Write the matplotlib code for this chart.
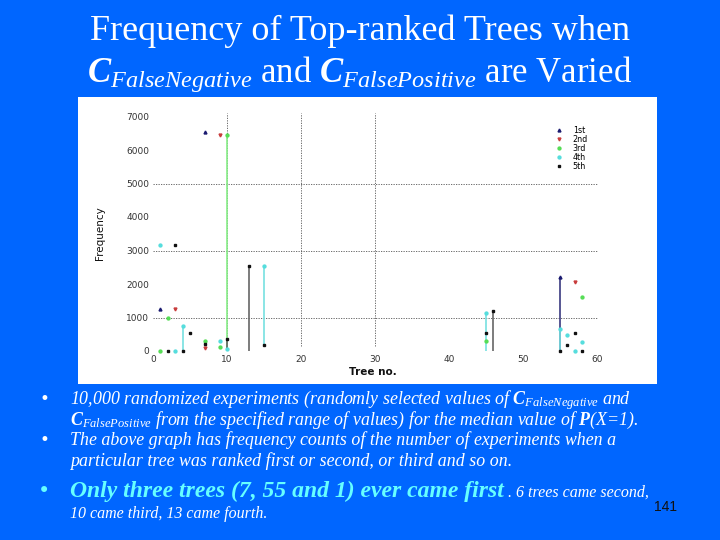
import matplotlib
matplotlib.use("Agg")
import matplotlib.pyplot as plt
from matplotlib.lines import Line2D

plt.rcParams['mathtext.fontset'] = 'custom'
plt.rcParams['mathtext.rm'] = 'Liberation Serif'
plt.rcParams['mathtext.it'] = 'Liberation Serif:italic'
plt.rcParams['mathtext.bf'] = 'Liberation Serif:italic:bold'

# ---------------- data ----------------
rank_labels = ["1st", "2nd", "3rd", "4th", "5th"]

first_trees = [1, 7, 55]
first_freq = [1250, 6550, 2200]

second_trees = [3, 7, 9, 57]
second_freq = [1250, 100, 6450, 2060]

third_trees = [1, 2, 7, 9, 10, 45, 58]
third_freq = [0, 1000, 300, 120, 6450, 300, 1610]

fourth_trees = [1, 3, 4, 9, 10, 15, 45, 55, 56, 57, 58]
fourth_freq = [3150, 0, 750, 300, 50, 2540, 1130, 650, 480, 0, 270]

fifth_trees = [2, 3, 4, 5, 7, 10, 13, 15, 45, 46, 55, 56, 57, 58]
fifth_freq = [0, 3150, 0, 550, 200, 350, 2540, 180, 540, 1200, 0, 180, 540, 0]

# vertical segments (tree, low, high) per rank
first_stems = [(55, 0, 2200)]
third_stems = [(10, 0, 6450)]
fourth_stems = [(4, 0, 750), (15, 180, 2540), (45, 0, 1130), (55, 0, 650)]
fifth_stems = [(10, 50, 350), (13, 0, 2540), (46, 0, 1200)]

x_ticks = [0, 10, 20, 30, 40, 50, 60]
y_ticks = [0, 1000, 2000, 3000, 4000, 5000, 6000, 7000]

# ---------------- figure ----------------
BLUE = '#0066FF'
fig = plt.figure(figsize=(7.2, 5.4), dpi=100)
fig.patch.set_facecolor(BLUE)

W, H = 720.0, 540.0
def fx(px):
    return px / W
def fy(py):
    return 1 - py / H

# white picture area (background axes)
bg = fig.add_axes([fx(78), fy(384), (657 - 78) / W, (384 - 97) / H])
bg.set_facecolor('white')
bg.set_xticks([])
bg.set_yticks([])
for s in bg.spines.values():
    s.set_visible(False)
bg.set_zorder(0)

# axes: tree 0 -> px153, 1 unit = 7.4px ; freq 0 -> py351, 1000 = 33.5px
xl, xr = -2, 62
yb, yt = -300, 7300
left_px = 153 + 7.4 * xl
right_px = 153 + 7.4 * xr
bot_px = 351 - 0.0335 * yb
top_px = 351 - 0.0335 * yt
ax = fig.add_axes([fx(left_px), fy(bot_px), (right_px - left_px) / W, (bot_px - top_px) / H])
ax.set_zorder(1)
ax.set_facecolor('none')
ax.set_xlim(xl, xr)
ax.set_ylim(yb, yt)
for s in ax.spines.values():
    s.set_visible(False)

# grid
for g in [1000, 3000, 5000]:
    ax.plot([0, 60], [g, g], color='#555555', lw=0.6, ls=(0, (1.5, 1.5)), zorder=1)
for g in [10, 20, 30]:
    ax.plot([g, g], [150, 7100], color='#555555', lw=0.6, ls=(0, (1.5, 1.5)), zorder=1)

series = [
    (first_trees, first_freq, first_stems, '#1a1a70', '^'),
    (second_trees, second_freq, [], '#c83c3c', 'v'),
    (third_trees, third_freq, third_stems, '#55dd55', 'o'),
    (fourth_trees, fourth_freq, fourth_stems, '#55dddd', 'o'),
    (fifth_trees, fifth_freq, fifth_stems, '#111111', 's'),
]
stem_colors = ['#3a3a80', '#c83c3c', '#88ee88', '#77e0e0', '#666666']
for (tr, fq, stems, col, mk), scol in zip(series, stem_colors):
    for (t, lo, hi) in stems:
        ax.vlines(t, lo, hi, color=scol, lw=1.2, zorder=2)
    ax.plot(tr, fq, ls='none', marker=mk, ms=2.1, color=col, zorder=3, clip_on=False)

ax.set_xticks(x_ticks)
ax.set_xticklabels([str(v) for v in x_ticks])
ax.set_yticks(y_ticks)
ax.set_yticklabels([str(v) for v in y_ticks])
ax.tick_params(length=0, labelsize=6.5, labelcolor='#333333')
ax.tick_params(axis='x', pad=-4.5)
ax.tick_params(axis='y', pad=-8)
ax.set_xlabel("Tree no.", fontsize=7.5, fontweight='bold', color='#111111')
ax.xaxis.set_label_coords((373 - left_px) / (right_px - left_px), (bot_px - 367) / (bot_px - top_px))
ax.set_ylabel("Frequency", fontsize=7.5, color='#111111')
ax.yaxis.set_label_coords((105 - left_px) / (right_px - left_px), (bot_px - 233) / (bot_px - top_px))

handles = [Line2D([], [], ls='none', marker=mk, ms=2.1, color=col)
           for (_, _, _, col, mk) in series]
ax.legend(handles, rank_labels, loc='upper left', bbox_to_anchor=(fx(551), fy(122)),
          bbox_transform=fig.transFigure, frameon=False, fontsize=5.8,
          labelspacing=0.0, handletextpad=1.2, handlelength=1.0, borderpad=0)

# ---------------- title ----------------
fig.text(0.5, fy(40), "Frequency of Top-ranked Trees when", ha='center', va='baseline',
         color='white', fontsize=26, family='Liberation Serif')
fig.text(0.5, fy(82), r"$\mathbf{C}_{FalseNegative}$ and $\mathbf{C}_{FalsePositive}$ are Varied",
         ha='center', va='baseline', color='white', fontsize=25, family='Liberation Serif')

# ---------------- bullets ----------------
it = dict(color='white', family='Liberation Serif', style='italic', va='baseline')
fig.text(fx(40), fy(404), "•", color='white', fontsize=12, va='baseline')
fig.text(fx(70), fy(404), r"10,000 randomized experiments (randomly selected values of $\mathbf{C}_{FalseNegative}$ and",
         fontsize=12.9, **it)
fig.text(fx(70), fy(425), r"$\mathbf{C}_{FalsePositive}$ from the specified range of values) for the median value of $\mathbf{P}$($X$=1).",
         fontsize=12.9, **it)
fig.text(fx(40), fy(445), "•", color='white', fontsize=12, va='baseline')
fig.text(fx(70), fy(445), "The above graph has frequency counts of the number of experiments when a",
         fontsize=12.9, **it)
fig.text(fx(70), fy(466), "particular tree was ranked first or second, or third and so on.",
         fontsize=12.9, **it)

fig.text(fx(38), fy(497), "•", color='#66FFFF', fontsize=15, va='baseline')
fig.text(fx(70), fy(497), "Only three trees (7, 55 and 1) ever came first", color='#66FFFF',
         family='Liberation Serif', style='italic', weight='bold', fontsize=17, va='baseline')
fig.text(fx(508), fy(497), ". 6 trees came second,", fontsize=11.5, **it)
fig.text(fx(70), fy(518), "10 came third, 13 came fourth.", fontsize=11.5, **it)
fig.text(fx(677), fy(511), "141", color='#111111', fontsize=10, ha='right', va='baseline',
         family='Liberation Sans')

fig.savefig("out.png", dpi=100, facecolor=fig.get_facecolor())
